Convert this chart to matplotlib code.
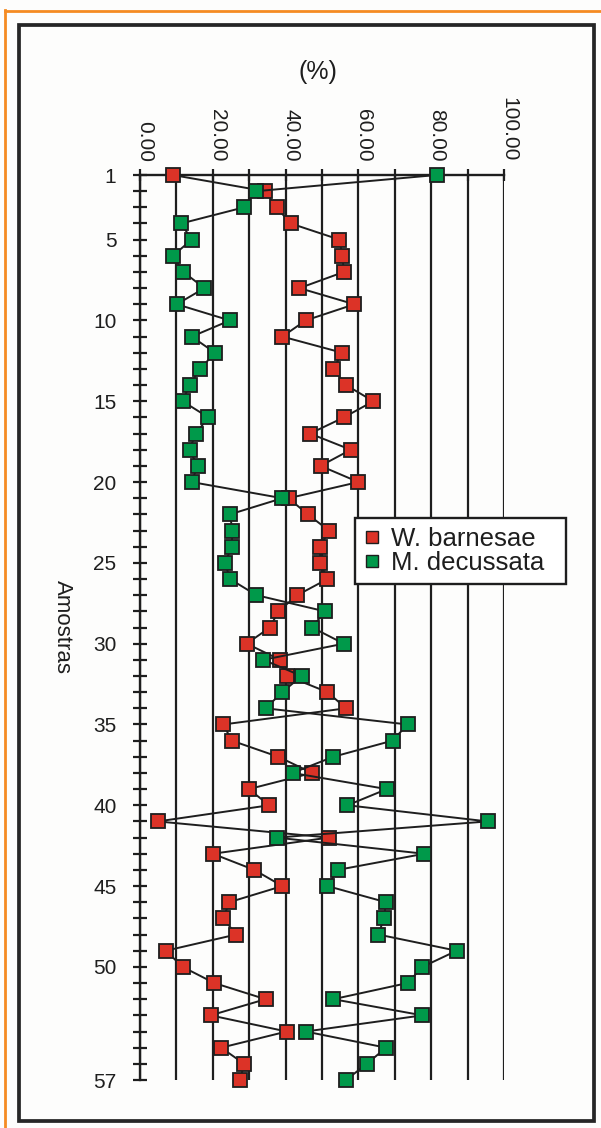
import numpy as np
import matplotlib
matplotlib.use("Agg")
import matplotlib.pyplot as plt
from matplotlib.lines import Line2D
from matplotlib.patches import Rectangle
from matplotlib.ticker import FixedLocator, MultipleLocator, FormatStrFormatter
from matplotlib.transforms import ScaledTranslation

plt.rcParams['font.family'] = ['Liberation Sans', 'DejaVu Sans']

# sample number (depth order, top to bottom)
amostras = np.arange(1, 58)

# relative abundance (%) per sample
w_barnesae = [9.0, 34.3, 37.5, 41.4, 54.8, 55.6, 56.0, 43.8, 58.9, 45.5,
              39.1, 55.6, 53.1, 56.6, 64.1, 56.0, 46.7, 57.9, 49.6, 60.0,
              40.8, 46.1, 51.9, 49.5, 49.5, 51.5, 43.2, 38.0, 35.7, 29.3,
              38.5, 40.5, 51.5, 56.6, 22.9, 25.2, 38.0, 47.3, 29.9, 35.5,
              4.9, 51.9, 20.0, 31.4, 39.1, 24.5, 22.9, 26.4, 7.1, 11.7,
              20.4, 34.5, 19.4, 40.3, 22.3, 28.6, 27.5]
m_decussata = [81.5, 32.0, 28.6, 11.3, 14.2, 9.0, 11.9, 17.7, 10.1, 24.7,
               14.2, 20.6, 16.5, 13.6, 11.7, 18.8, 15.3, 13.6, 15.8, 14.2,
               39.1, 24.7, 25.4, 25.2, 23.4, 24.7, 32.0, 50.8, 47.3, 56.0,
               33.9, 44.4, 39.1, 34.5, 73.5, 69.4, 53.1, 41.9, 67.8, 57.0,
               95.5, 37.5, 78.1, 54.3, 51.5, 67.6, 67.0, 65.5, 87.0, 77.6,
               73.5, 53.1, 77.6, 45.5, 67.6, 62.3, 56.6]

ytick_vals = [1, 5, 10, 15, 20, 25, 30, 35, 40, 45, 50, 57]

RED = '#dc3327'
GREEN = '#00994a'
INK = '#1e1e1e'

W, H = 601, 1128
fig = plt.figure(figsize=(W / 100, H / 100), dpi=100, facecolor='#fdfdfc')

def fx(px):
    return px / W

def fy(py):
    return 1 - py / H

# page decoration: orange border and black frame
fig.add_artist(Line2D([fx(5), fx(5)], [fy(10), fy(H)], color='#f58b22', lw=2.0))
fig.add_artist(Line2D([fx(5), fx(W)], [fy(11), fy(11)], color='#f58b22', lw=2.0))
fig.add_artist(Rectangle((fx(18.5), fy(1120.5)), fx(593.5) - fx(18.5),
                         fy(24.5) - fy(1120.5), transform=fig.transFigure,
                         fill=False, ec='#262626', lw=2.7))

ax = fig.add_axes([fx(140), fy(1080), fx(504) - fx(140), fy(175) - fy(1080)])
ax.set_facecolor('none')

ax.plot(w_barnesae, amostras, color=INK, lw=1.4, marker='s', ms=9.5,
        mfc=RED, mec=INK, mew=1.3, clip_on=False, zorder=3)
ax.plot(m_decussata, amostras, color=INK, lw=1.4, marker='s', ms=9.5,
        mfc=GREEN, mec=INK, mew=1.3, clip_on=False, zorder=4)

ax.set_xlim(0, 100)
ax.set_ylim(57, 1)

for side in ['right', 'bottom']:
    ax.spines[side].set_visible(False)
for side in ['left', 'top']:
    ax.spines[side].set_linewidth(1.7)
    ax.spines[side].set_color(INK)

# x axis on top, labels rotated
ax.xaxis.tick_top()
ax.xaxis.set_major_locator(MultipleLocator(20))
ax.xaxis.set_minor_locator(MultipleLocator(10))
ax.xaxis.set_major_formatter(FormatStrFormatter('%.2f'))
ax.tick_params(axis='x', which='both', direction='inout', length=9, width=1.6,
               color=INK, top=True, bottom=False, labelsize=15,
               labelcolor=INK, pad=5)
ax.tick_params(axis='x', which='major', labelrotation=270)
shift = ScaledTranslation(5 / 100, 0, fig.dpi_scale_trans)
for lab in ax.get_xticklabels():
    lab.set_transform(lab.get_transform() + shift)
ax.grid(axis='x', which='both', color=INK, lw=1.6)

# sample axis
ax.yaxis.set_major_locator(FixedLocator(ytick_vals))
ax.yaxis.set_minor_locator(MultipleLocator(1))
ax.tick_params(axis='y', which='both', direction='inout', length=10, width=1.6,
               color=INK, labelsize=15, labelcolor=INK, pad=12)

ax.set_ylabel('Amostras', fontsize=16, color=INK, rotation=270,
              ha='center', va='center')
ax.yaxis.set_label_coords(-0.214, 0.5)
ax.xaxis.set_label_position('top')
ax.set_xlabel('(%)', fontsize=18, color=INK, ha='center', va='center')
ax.xaxis.set_label_coords(0.489, 1.114)

handles = [
    Line2D([], [], ls='none', marker='s', ms=8.5, mfc=RED, mec=INK, mew=1.0),
    Line2D([], [], ls='none', marker='s', ms=8.5, mfc=GREEN, mec=INK, mew=1.0),
]
leg = fig.legend(handles, ['W. barnesae', 'M. decussata'],
                 loc='upper left', mode='expand',
                 bbox_to_anchor=(fx(355), fy(586), fx(566) - fx(355), fy(518) - fy(586)),
                 bbox_transform=fig.transFigure, borderaxespad=0,
                 fontsize=18.5, frameon=True, fancybox=False, framealpha=1,
                 edgecolor=INK, facecolor='white', borderpad=0.35,
                 labelspacing=0.0, handlelength=0.6, handletextpad=0.45)
leg.get_frame().set_linewidth(1.7)
for t in leg.get_texts():
    t.set_color(INK)

fig.savefig('out.png', dpi=100, facecolor=fig.get_facecolor())
